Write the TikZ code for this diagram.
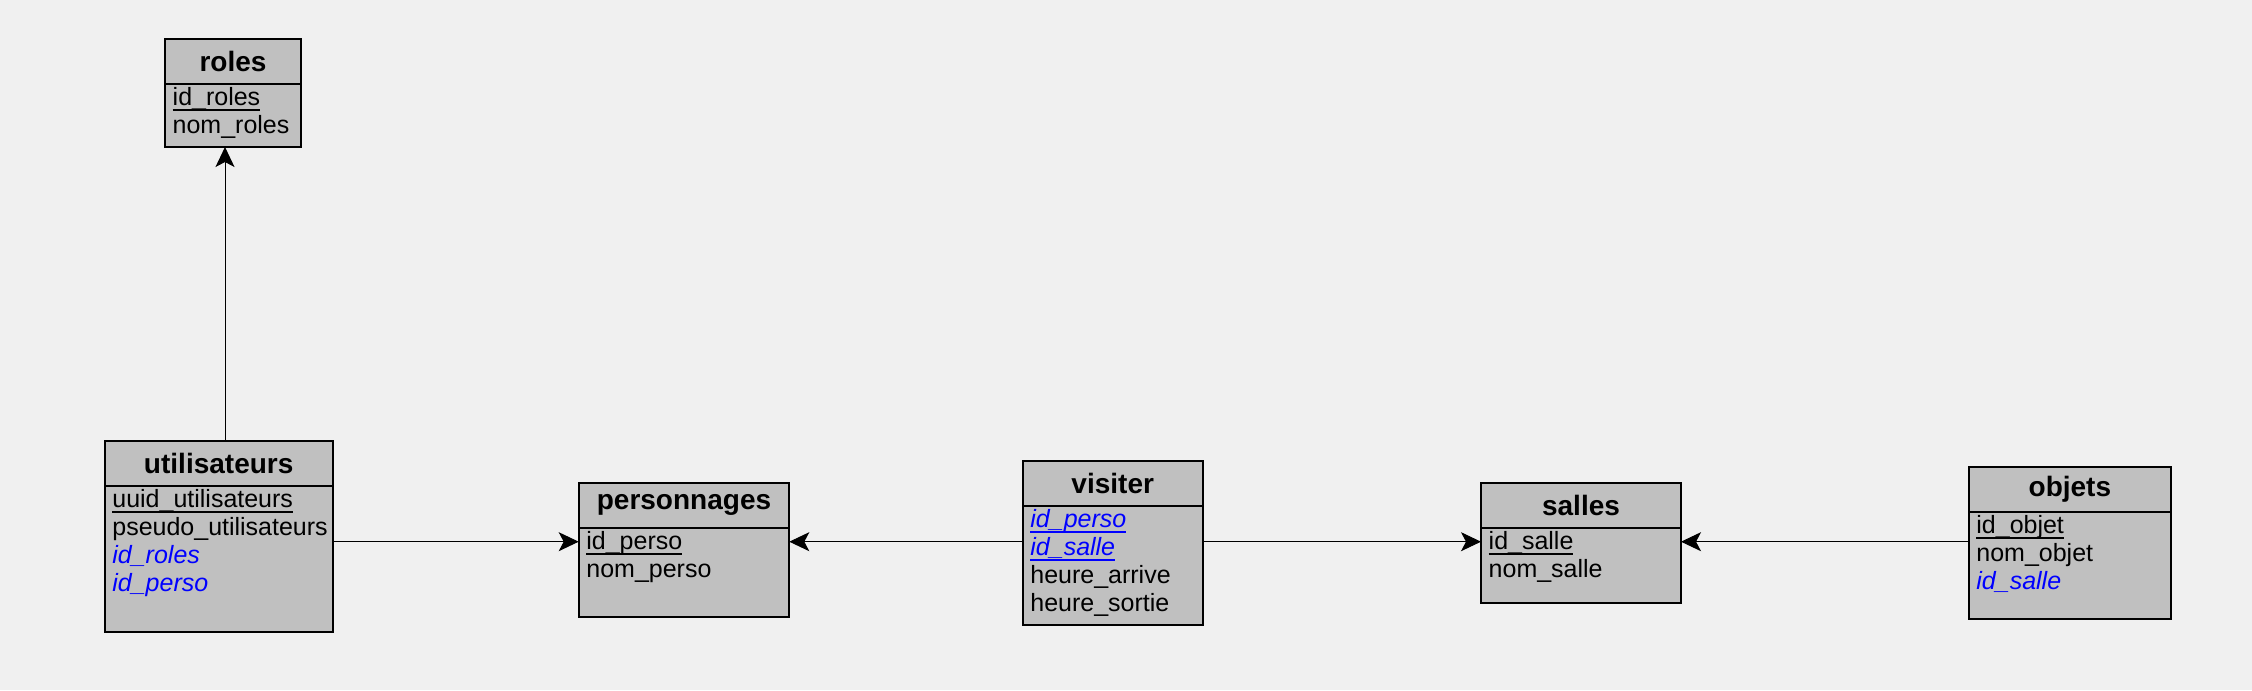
\documentclass[tikz,border=0pt]{standalone}
\usepackage{fontspec}
\setmainfont{Liberation Sans}
\usetikzlibrary{arrows.meta,positioning}
\definecolor{canvas}{HTML}{F0F0F0}
\definecolor{tablegray}{HTML}{C0C0C0}
\definecolor{fkblue}{HTML}{0000FF}
\newcommand{\fk}[1]{\textcolor{fkblue}{\textit{#1}}}
\newsavebox{\pkbox}
\newcommand{\pk}[1]{\sbox{\pkbox}{#1}\rlap{\usebox{\pkbox}}\rule[-1.5pt]{\wd\pkbox}{0.5pt}}

\begin{document}
\begin{tikzpicture}[>={Stealth[length=0.2cm, width=0.19cm, inset=0.05cm]},
  tablehead/.style={draw, fill=tablegray, line width=0.018cm, outer sep=0pt, inner sep=0pt,
    minimum height=0.45cm, anchor=north west, font=\fontsize{7.97pt}{9pt}\selectfont\bfseries},
  tablebody/.style={draw, fill=tablegray, line width=0.018cm, outer sep=0pt, inner sep=0pt},
  attrs/.style={align=left, anchor=north west, inner xsep=0.07cm, inner ysep=0.03cm,
    font=\fontsize{7.11pt}{7.97pt}\selectfont},
  link/.style={->, line width=0.01cm}]

  \useasboundingbox[fill=canvas] (0,0) rectangle (22.52,-6.9);

  % roles
  \node[tablehead, minimum width=1.36cm] (roles) at (1.65,-0.387) {roles};
  \node[tablebody, minimum width=1.36cm, minimum height=0.633cm, below=0pt of roles] (roles-body) {};
  \node[attrs] (roles-attrs) at (roles-body.north west) {\pk{id\_roles}\\nom\_roles};

  % utilisateurs
  \node[tablehead, minimum width=2.28cm] (utilisateurs) at (1.047,-4.407) {utilisateurs};
  \node[tablebody, minimum width=2.28cm, minimum height=1.463cm, below=0pt of utilisateurs] (utilisateurs-body) {};
  \node[attrs] (utilisateurs-attrs) at (utilisateurs-body.north west)
    {\pk{uuid\_utilisateurs}\\pseudo\_utilisateurs\\\fk{id\_roles}\\\fk{id\_perso}};

  % personnages
  \node[tablehead, minimum width=2.106cm] (personnages) at (5.787,-4.827) {personnages};
  \node[tablebody, minimum width=2.106cm, minimum height=0.89cm, below=0pt of personnages] (personnages-body) {};
  \node[attrs] (personnages-attrs) at (personnages-body.north west) {\pk{id\_perso}\\nom\_perso};

  % visiter
  \node[tablehead, minimum width=1.8cm] (visiter) at (10.227,-4.61) {visiter};
  \node[tablebody, minimum width=1.8cm, minimum height=1.19cm, below=0pt of visiter] (visiter-body) {};
  \node[attrs] (visiter-attrs) at (visiter-body.north west)
    {\textcolor{fkblue}{\pk{\textit{id\_perso}}}\\\textcolor{fkblue}{\pk{\textit{id\_salle}}}\\heure\_arrive\\heure\_sortie};

  % salles
  \node[tablehead, minimum width=2cm] (salles) at (14.81,-4.827) {salles};
  \node[tablebody, minimum width=2cm, minimum height=0.75cm, below=0pt of salles] (salles-body) {};
  \node[attrs] (salles-attrs) at (salles-body.north west) {\pk{id\_salle}\\nom\_salle};

  % objets
  \node[tablehead, minimum width=2.023cm] (objets) at (19.687,-4.67) {objets};
  \node[tablebody, minimum width=2.023cm, minimum height=1.07cm, below=0pt of objets] (objets-body) {};
  \node[attrs] (objets-attrs) at (objets-body.north west)
    {\pk{id\_objet}\\nom\_objet\\\fk{id\_salle}};

  % Links
  \coordinate (link) at ([yshift=-0.14cm]personnages-body.north);
  \draw[link] ([xshift=0.063cm]utilisateurs.north) -- ([xshift=0.063cm]utilisateurs.north |- roles-body.south);
  \draw[link] (utilisateurs-body.east |- link) -- (personnages-body.west |- link);
  \draw[link] (visiter-body.west |- link) -- (personnages-body.east |- link);
  \draw[link] (visiter-body.east |- link) -- (salles-body.west |- link);
  \draw[link] (objets-body.west |- link) -- (salles-body.east |- link);

\end{tikzpicture}
\end{document}
